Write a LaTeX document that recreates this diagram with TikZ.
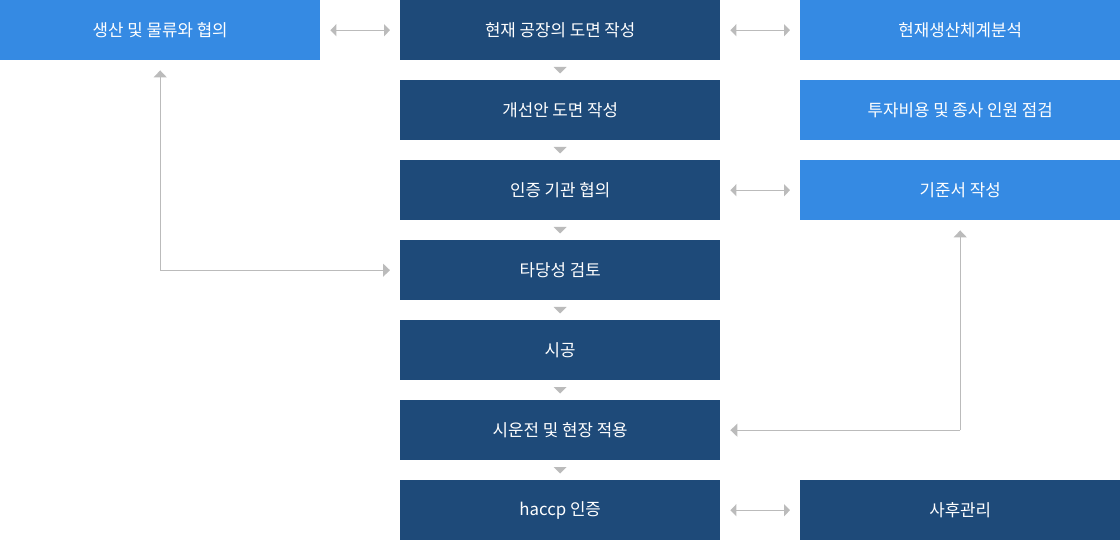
\documentclass[tikz,border=0pt]{standalone}
\usepackage{fontspec}
\setmainfont{Noto Sans CJK KR}
\usetikzlibrary{arrows.meta}
\definecolor{navy}{HTML}{1E4A79}
\definecolor{sky}{HTML}{358AE3}
\definecolor{lgrey}{HTML}{BBBBBB}
\begin{document}
\begin{tikzpicture}[x=1pt,y=-1pt,
  box/.style={minimum width=320pt,minimum height=60pt,inner sep=0pt,anchor=north west,text=white,font=\fontsize{16.8}{20}\selectfont},
  dbox/.style={box,fill=navy},
  lbox/.style={box,fill=sky},
  conn/.style={draw=lgrey,line width=1.2pt,-{Triangle[width=13pt,length=7pt]}},
  biconn/.style={draw=lgrey,line width=1.2pt,{Triangle[width=12pt,length=6pt]}-{Triangle[width=12pt,length=6pt]}}]
\useasboundingbox (0,0) rectangle (1120,540);
\node[lbox] (a) at (0,0) {생산 및 물류와 협의};
\node[dbox] (c1) at (400,0) {현재 공장의 도면 작성};
\node[dbox] (c2) at (400,80) {개선안 도면 작성};
\node[dbox] (c3) at (400,160) {인증 기관 협의};
\node[dbox] (c4) at (400,240) {타당성 검토};
\node[dbox] (c5) at (400,320) {시공};
\node[dbox] (c6) at (400,400) {시운전 및 현장 적용};
\node[dbox] (c7) at (400,480) {haccp 인증};
\node[lbox] (r1) at (800,0) {현재생산체계분석};
\node[lbox] (r2) at (800,80) {투자비용 및 종사 인원 점검};
\node[lbox] (r3) at (800,160) {기준서 작성};
\node[dbox] (r7) at (800,480) {사후관리};
% down triangles
\foreach \y in {67,147,227,307,387,467}
  \fill[lgrey] (553.5,\y) -- (566.5,\y) -- (560,\y+6.5) -- cycle;
% double arrows
\draw[biconn] ([xshift=10pt]a.east) -- ([xshift=-10pt]c1.west);
\draw[biconn] ([xshift=10pt]c1.east) -- ([xshift=-10pt]r1.west);
\draw[biconn] ([xshift=10pt]c3.east) -- ([xshift=-10pt]r3.west);
\draw[biconn] ([xshift=10pt]c7.east) -- ([xshift=-10pt]r7.west);
% elbow arrows
\coordinate (la) at ([yshift=-10pt]a.south);
\coordinate (lc) at ([xshift=-10pt]c4.west);
\draw[conn] (lc -| la) -- (la);
\draw[conn] (lc -| la) -- (lc);
\coordinate (ra) at ([yshift=-10pt]r3.south);
\coordinate (rc) at ([xshift=10pt]c6.east);
\draw[conn] (rc -| ra) -- (ra);
\draw[conn] (rc -| ra) -- (rc);
\end{tikzpicture}
\end{document}
